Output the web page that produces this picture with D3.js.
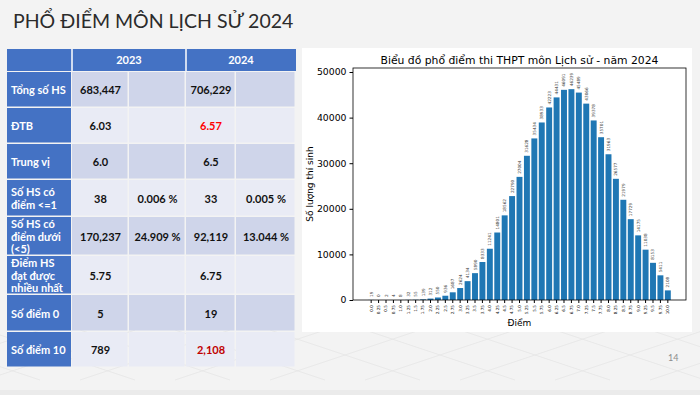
<!DOCTYPE html>
<html>
<head>
<meta charset="utf-8">
<script src="https://cdn.jsdelivr.net/npm/d3@7"></script>
<style>
  body { margin: 0; background: #f3f3f3; }
  svg { display: block; }
</style>
</head>
<body>
<svg id="slide" width="700" height="395"></svg>
<script>
// chart data
const scores = ["0.0","0.25","0.5","0.75","1.0","1.25","1.5","1.75","2.0","2.25","2.5","2.75",
  "3.0","3.25","3.5","3.75","4.0","4.25","4.5","4.75","5.0","5.25","5.5","5.75","6.0","6.25",
  "6.5","6.75","7.0","7.25","7.5","7.75","8.0","8.25","8.5","8.75","9.0","9.25","9.5","9.75","10.0"];
const counts = [19,0,2,4,8,32,55,139,312,550,936,1687,2624,4134,5890,8333,11241,14801,18562,22790,
  27004,31628,35434,38933,42223,44431,46091,46239,45489,43066,39378,35701,31963,26577,21979,17729,
  14175,11038,8153,5411,2108];
const yTicks = [0,10000,20000,30000,40000,50000];

// table data
const years = ["2023", "2024"];
const rowLabels = [["Tổng số HS"], ["ĐTB"], ["Trung vị"], ["Số HS có", "điểm <=1"],
  ["Số HS có", "điểm dưới", "(<5)"], ["Điểm HS", "đạt được", "nhiều nhất"], ["Số điểm 0"], ["Số điểm 10"]];
const vals2023 = ["683,447", "6.03", "6.0", "38", "170,237", "5.75", "5", "789"];
const pct2023 = ["", "", "", "0.006 %", "24.909 %", "", "", ""];
const vals2024 = ["706,229", "6.57", "6.5", "33", "92,119", "6.75", "19", "2,108"];
const pct2024 = ["", "", "", "0.005 %", "13.044 %", "", "", ""];
const red2024 = {1: "#ff0000", 7: "#c00000"};

const svg = d3.select("#slide");

// background
svg.append("rect").attr("width", 700).attr("height", 395).attr("fill", "#f3f3f3");
svg.append("rect").attr("y", 390).attr("width", 700).attr("height", 5).attr("fill", "#ebebeb");

// faint diamond pattern at bottom
const deco = svg.append("g").attr("stroke", "#e6e6e6").attr("stroke-width", 0.8).attr("fill", "none");
d3.range(-300, 900, 95).forEach(x0 => {
  deco.append("line").attr("x1", x0).attr("y1", 330).attr("x2", x0 + 150).attr("y2", 380);
  deco.append("line").attr("x1", x0 + 150).attr("y1", 330).attr("x2", x0).attr("y2", 380);
});

// slide title
svg.append("text").attr("x", 13).attr("y", 28)
  .attr("font-family", "Lato, 'Open Sans', sans-serif").attr("font-size", 19.5)
  .attr("fill", "#2b2b2b").text("PHỔ ĐIỂM MÔN LỊCH SỬ 2024");

// ---- table ----
const colX = [7, 72, 129, 186, 236, 296];
const rowY = [72, 108, 144, 180, 217, 256, 295, 332, 368];
const tbl = svg.append("g").attr("font-family", "Lato, 'Open Sans', sans-serif")
  .attr("font-weight", "bold").attr("font-size", 11);

// header row
tbl.append("rect").attr("x", colX[0]).attr("y", 49).attr("width", colX[5] - colX[0]).attr("height", 22)
  .attr("fill", "#4472c4");
[[1, 3], [3, 5]].forEach((span, i) => {
  tbl.append("line").attr("x1", colX[span[0]]).attr("x2", colX[span[0]])
    .attr("y1", 49).attr("y2", 71).attr("stroke", "#fff").attr("stroke-width", 1.5);
  tbl.append("text").attr("x", (colX[span[0]] + colX[span[1]]) / 2).attr("y", 64)
    .attr("text-anchor", "middle").attr("fill", "#fff").text(years[i]);
});

rowLabels.forEach((lab, r) => {
  const y0 = rowY[r], h = rowY[r + 1] - rowY[r];
  const fill = r % 2 === 0 ? "#cfd5ea" : "#e9ebf5";
  tbl.append("rect").attr("x", colX[0]).attr("y", y0).attr("width", colX[1] - colX[0] - 1)
    .attr("height", h - 1.5).attr("fill", "#4472c4");
  for (let c = 1; c < 5; c++) {
    tbl.append("rect").attr("x", colX[c]).attr("y", y0).attr("width", colX[c + 1] - colX[c] - 1.5)
      .attr("height", h - 1.5).attr("fill", fill);
  }
  const lh = 12.8;
  const t = tbl.append("text").attr("fill", "#fff").attr("x", 11);
  lab.forEach((s, k) => {
    t.append("tspan").attr("x", 11)
      .attr("y", y0 + h / 2 + 4 + (k - (lab.length - 1) / 2) * lh).text(s);
  });
  const cells = [vals2023[r], pct2023[r], vals2024[r], pct2024[r]];
  cells.forEach((v, c) => {
    tbl.append("text").attr("x", (colX[c + 1] + colX[c + 2]) / 2).attr("y", y0 + h / 2 + 4)
      .attr("text-anchor", "middle")
      .attr("fill", c === 2 && red2024[r] ? red2024[r] : "#111").text(v);
  });
});

// ---- chart panel ----
svg.append("rect").attr("x", 302).attr("y", 48).attr("width", 390).attr("height", 284).attr("fill", "#fff");

const plot = {left: 353, right: 686, top: 68, bottom: 300};
const x = d3.scaleBand().domain(scores).range([plot.left, plot.right])
  .paddingInner(0.2).paddingOuter(2.05);
const y = d3.scaleLinear().domain([0, 50880]).range([plot.bottom, plot.top]);

const chart = svg.append("g").attr("font-family", "'DejaVu Sans', sans-serif");

chart.selectAll("rect.bar").data(counts).join("rect").attr("class", "bar")
  .attr("x", (d, i) => x(scores[i])).attr("width", x.bandwidth())
  .attr("y", d => y(d)).attr("height", d => y(0) - y(d)).attr("fill", "#1f77b4");

chart.selectAll("text.val").data(counts).join("text").attr("class", "val")
  .attr("transform", (d, i) => `translate(${x(scores[i]) + x.bandwidth() / 2 + 1.5},${y(d) - 3}) rotate(-90)`)
  .attr("font-size", 4.2).attr("fill", "#333").text(d => d);

const yAxis = chart.append("g").attr("transform", `translate(${plot.left},0)`)
  .call(d3.axisLeft(y).tickValues(yTicks).tickSize(3.5).tickPadding(3).tickFormat(d3.format("d")));
yAxis.select(".domain").remove();
yAxis.selectAll("text").attr("font-size", 9.3).attr("font-family", "'DejaVu Sans', sans-serif").attr("fill", "#000");

const xAxis = chart.append("g").attr("transform", `translate(0,${plot.bottom})`)
  .call(d3.axisBottom(x).tickSize(3).tickPadding(2));
xAxis.select(".domain").remove();
xAxis.selectAll("text").attr("font-size", 4.2).attr("font-family", "'DejaVu Sans', sans-serif")
  .attr("fill", "#000").attr("text-anchor", "end").attr("dy", "0.32em")
  .attr("transform", "translate(0,5) rotate(-90)").attr("y", 0).attr("x", 0);

chart.append("rect").attr("x", plot.left).attr("y", plot.top)
  .attr("width", plot.right - plot.left).attr("height", plot.bottom - plot.top)
  .attr("fill", "none").attr("stroke", "#000").attr("stroke-width", 0.8);

chart.append("text").attr("x", (plot.left + plot.right) / 2).attr("y", 64).attr("text-anchor", "middle")
  .attr("font-size", 10.8).text("Biểu đồ phổ điểm thi THPT môn Lịch sử - năm 2024");
chart.append("text").attr("x", (plot.left + plot.right) / 2).attr("y", 326).attr("text-anchor", "middle")
  .attr("font-size", 9).text("Điểm");
chart.append("text").attr("transform", `translate(313,${(plot.top + plot.bottom) / 2}) rotate(-90)`)
  .attr("text-anchor", "middle").attr("font-size", 9).text("Số lượng thí sinh");

// page number
svg.append("text").attr("x", 668).attr("y", 361).attr("font-family", "Lato, sans-serif")
  .attr("font-size", 9).attr("fill", "#8c8c8c").text("14");
</script>
</body>
</html>
